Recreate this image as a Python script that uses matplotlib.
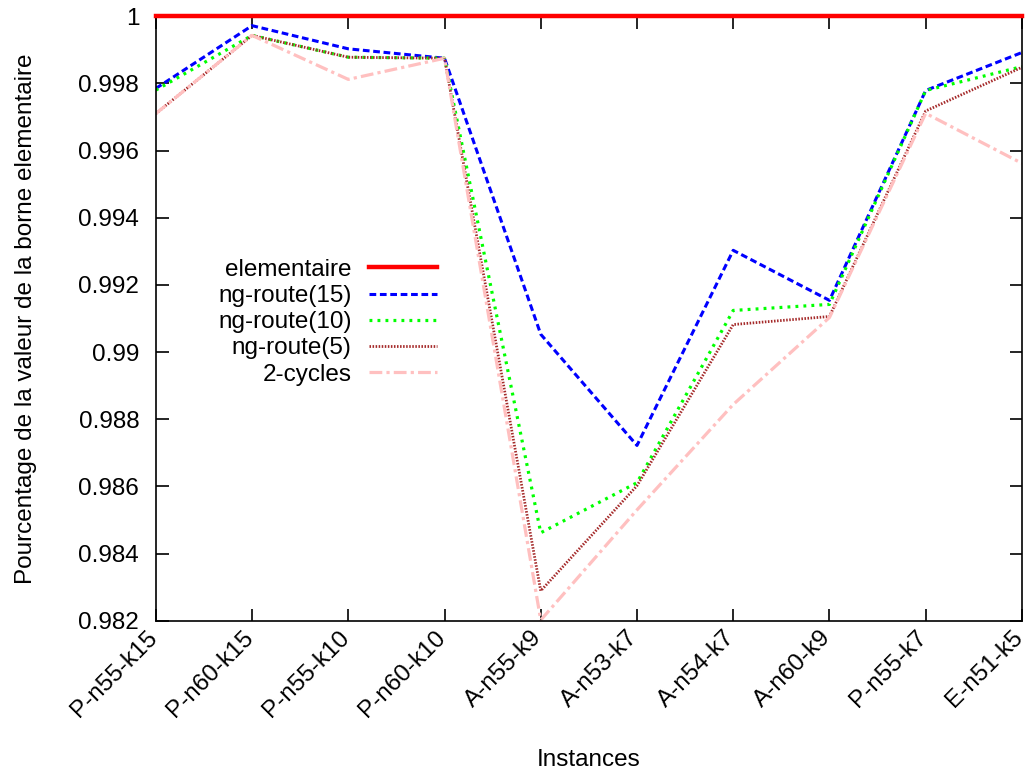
import matplotlib
matplotlib.use('Agg')
import matplotlib.pyplot as plt
from matplotlib.ticker import FuncFormatter
from matplotlib.transforms import ScaledTranslation

plt.rcParams['font.family'] = ['Liberation Sans', 'DejaVu Sans']

# instances on the x axis
instances = ['P-n55-k15', 'P-n60-k15', 'P-n55-k10', 'P-n60-k10', 'A-n55-k9',
             'A-n53-k7', 'A-n54-k7', 'A-n60-k9', 'P-n55-k7', 'E-n51-k5']

# ratio to the elementary bound
elementaire = [1, 1, 1, 1, 1, 1, 1, 1, 1, 1]
ng15 = [0.99785, 0.99972, 0.99903, 0.99875, 0.99053, 0.98722, 0.99303, 0.99154, 0.99779, 0.99892]
ng10 = [0.99780, 0.99943, 0.99878, 0.99875, 0.98462, 0.98611, 0.99124, 0.99142, 0.99779, 0.99850]
ng5 = [0.99710, 0.99943, 0.99878, 0.99875, 0.98289, 0.98602, 0.99082, 0.99106, 0.99718, 0.99848]
cycles2 = [0.99710, 0.99943, 0.99812, 0.99875, 0.98202, 0.98530, 0.98844, 0.99103, 0.99711, 0.99562]

fs = 17.5
fig = plt.figure(figsize=(10.25, 7.74), dpi=100)
ax = fig.add_axes([0.152, 0.198, 0.845, 0.781])

x = range(len(instances))
ax.plot(x, elementaire, color='#ff0000', lw=3.2, label='elementaire', zorder=5, clip_on=False)
ax.plot(x, ng15, color='#0000ff', lw=2.2, dashes=(2.2, 1.2), label='ng-route(15)')
ax.plot(x, ng10, color='#00ff00', lw=2.3, dashes=(0.9, 1.6), label='ng-route(10)')
ax.plot(x, ng5, color='#a52a2a', lw=2.0, dashes=(0.55, 0.55), label='ng-route(5)')
ax.plot(x, cycles2, color='#ffc0c0', lw=2.3, dashes=(4, 1.3, 1, 1.3), label='2-cycles')

ax.set_xlim(0, len(instances) - 1)
ax.set_ylim(0.982, 1.0)
ax.set_yticks([0.982 + 0.002 * i for i in range(10)])
ax.yaxis.set_major_formatter(FuncFormatter(lambda v, p: '%g' % round(v, 4)))
ax.set_xticks(list(x))
ax.set_xticklabels(instances, rotation=45, ha='right', rotation_mode='anchor')

ax.tick_params(direction='in', length=9, width=1.2, labelsize=fs,
               top=True, right=True)
ax.tick_params(axis='y', pad=12)
ax.tick_params(axis='x', pad=4)
shift = ScaledTranslation(-10 / 100, 0, fig.dpi_scale_trans)
for lab in ax.get_xticklabels():
    lab.set_transform(lab.get_transform() + shift)
for s in ax.spines.values():
    s.set_linewidth(1.2)

ax.set_xlabel('Instances', fontsize=fs, labelpad=20)
ax.set_ylabel('Pourcentage de la valeur de la borne elementaire', fontsize=fs, labelpad=30)

leg = ax.legend(loc='upper right', bbox_to_anchor=(0.3245, 0.5985), frameon=False,
                markerfirst=False, fontsize=fs, handlelength=2.8,
                labelspacing=0.17, handletextpad=0.7, borderpad=0, borderaxespad=0)
for t in leg.get_texts():
    t.set_ha('right')
leg._legend_box.align = 'right'

fig.savefig('out.png', dpi=100)
